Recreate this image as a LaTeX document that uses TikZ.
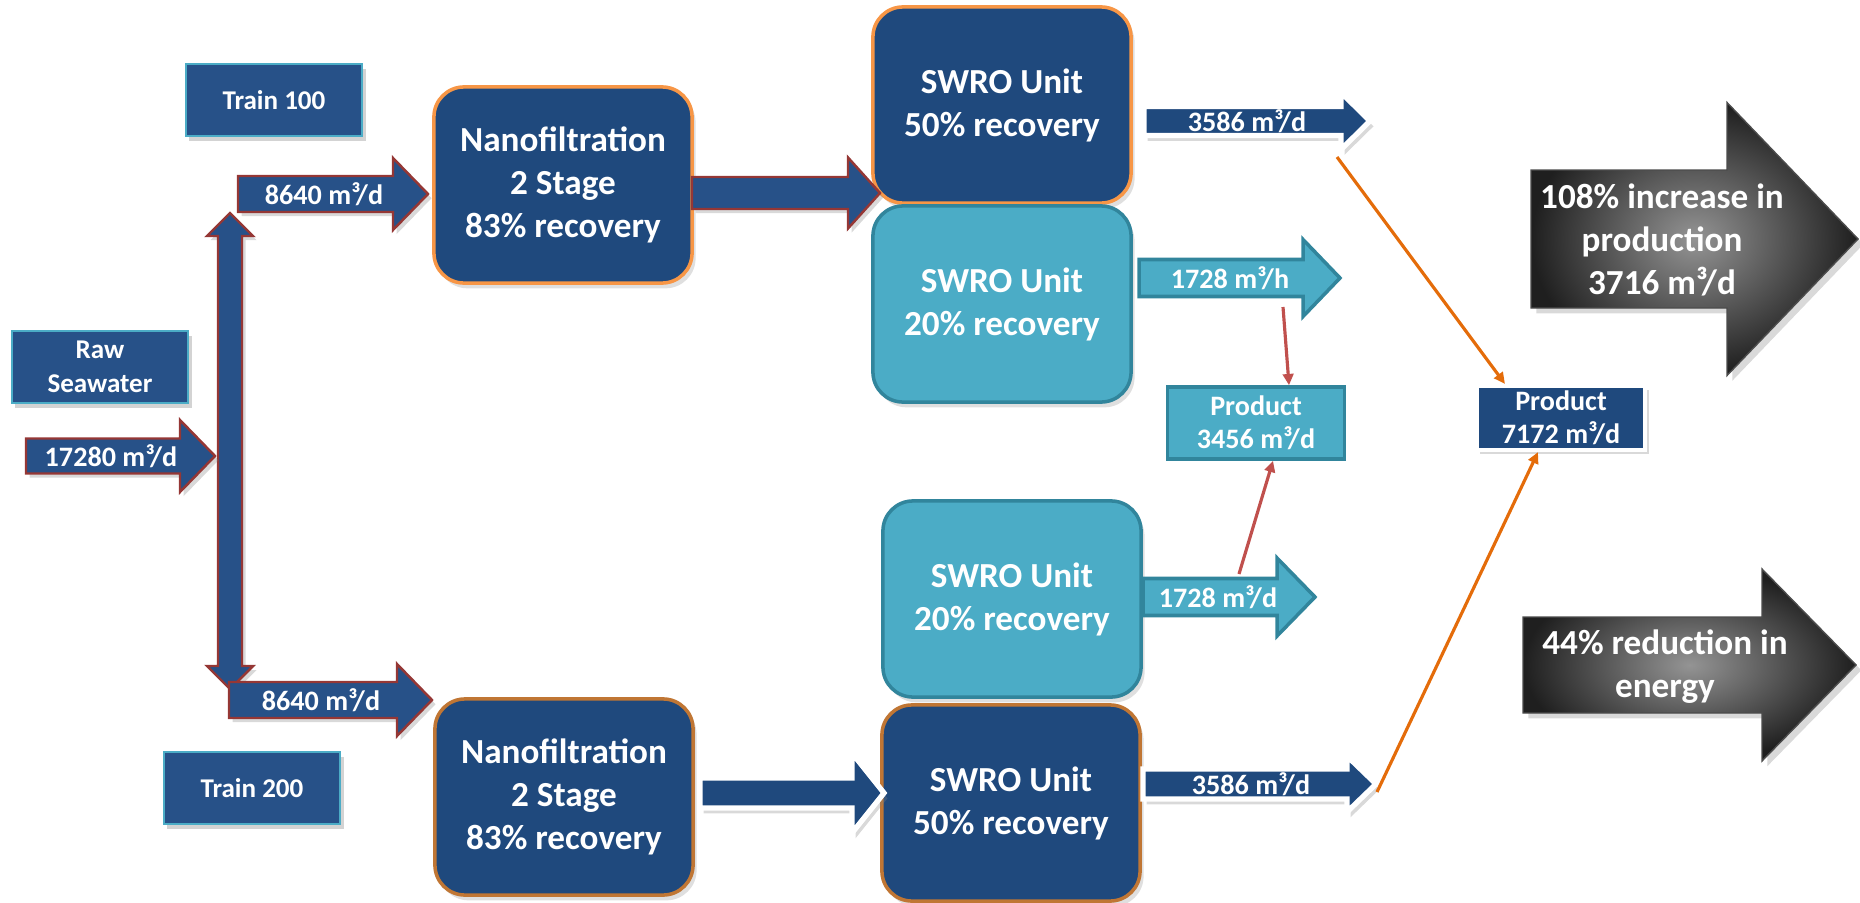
\documentclass[tikz,border=0pt]{standalone}
\usepackage{fontspec}
\setmainfont{Carlito}
\usetikzlibrary{shadows,arrows.meta}
\definecolor{navy}{RGB}{31,73,125}
\definecolor{navylight}{RGB}{39,81,136}
\definecolor{aqua}{RGB}{75,172,198}
\definecolor{aquadark}{RGB}{49,133,156}
\definecolor{unitorange}{RGB}{247,150,70}
\definecolor{unitbrown}{RGB}{192,118,52}
\definecolor{arrowred}{RGB}{149,55,53}
\definecolor{linkred}{RGB}{192,80,77}
\definecolor{linkorange}{RGB}{228,108,10}
\newcommand{\blockarrow}[7]{\path[#1] (#2,#5-#6) -- (#3,#5-#6) -- (#3,#5-#7) -- (#4,#5) -- (#3,#5+#7) -- (#3,#5+#6) -- (#2,#5+#6) -- cycle;}
\begin{document}
\begin{tikzpicture}[x=0.01cm, y=-0.01cm,
every node/.style={text=white, align=center, inner sep=1pt},
unitbox/.style={rounded corners=0.3cm, minimum width=2.58cm, minimum height=1.96cm, line width=1pt, font=\bfseries\fontsize{10}{12.2}\selectfont, drop shadow={opacity=0.25, shadow xshift=1pt, shadow yshift=-1.5pt}},
darkunit/.style={unitbox, fill=navy, draw=unitorange},
lightunit/.style={unitbox, fill=aqua, draw=aquadark},
trainbox/.style={fill=navylight, draw=aqua, line width=0.6pt, minimum width=1.76cm, minimum height=0.72cm, font=\bfseries\fontsize{7.7}{9.5}\selectfont, drop shadow={opacity=0.35, shadow xshift=1pt, shadow yshift=-1.5pt}},
flowtext/.style={font=\bfseries\fontsize{8}{9.5}\selectfont},
gaintext/.style={font=\bfseries\fontsize{10}{12.2}\selectfont},
feedarrow/.style={fill=navylight, draw=arrowred, line width=0.7pt, drop shadow={opacity=0.3, shadow xshift=1pt, shadow yshift=-1.2pt}},
permarrow/.style={fill=navy, draw=white, line width=1.5pt, drop shadow={opacity=0.3, shadow xshift=1pt, shadow yshift=-1.5pt}},
lightarrow/.style={fill=aqua, draw=aquadark, line width=1pt},
gainarrow/.style={inner color=black!42, outer color=black!88, draw=black!70, line width=0.4pt, drop shadow={opacity=0.3, shadow xshift=1.5pt, shadow yshift=-1.5pt}},
productline/.style={line width=0.9pt, -{Triangle[length=3.2pt,width=3pt]}}]
\path[use as bounding box] (0,0) rectangle (1860,903);
\blockarrow{gainarrow}{1531}{1727}{1858}{239}{69}{136.5}
\node[gaintext] (gain1) at (1662,240) {108\% increase in\\production\\3716 m³/d};
\blockarrow{gainarrow}{1523}{1762}{1856}{665}{48}{96}
\node[gaintext] (gain2) at (1665,667) {44\% reduction in\\energy};
\node[trainbox] (train1) at (274,100) {Train 100};
\node[trainbox] (raw) at (100,367) {Raw\\Seawater};
\node[trainbox] (train2) at (252,788) {Train 200};
\path[feedarrow] (230,213) -- (253,236) -- (242,236) -- (242,666) -- (253,666) -- (230,689) -- (207,666) -- (218,666) -- (218,236) -- (207,236) -- cycle;
\blockarrow{feedarrow}{26}{180}{215}{456}{17.5}{36}
\node[flowtext] (q0) at (111,456) {17280 m³/d};
\blockarrow{feedarrow}{238}{393}{428}{194}{18}{36}
\node[flowtext] (q1) at (324,194) {8640 m³/d};
\blockarrow{feedarrow}{229}{397}{432}{700}{18}{36}
\node[flowtext] (q2) at (321,700) {8640 m³/d};
\node[darkunit] (nf1) at (563,185) {Nanofiltration\\2 Stage\\83\% recovery};
\node[darkunit, draw=unitbrown] (nf2) at (564,797) {Nanofiltration\\2 Stage\\83\% recovery};
\node[darkunit] (ro1) at (1002,105) {SWRO Unit\\50\% recovery};
\node[lightunit] (ro2) at (1002,304) {SWRO Unit\\20\% recovery};
\node[lightunit] (ro3) at (1012,599) {SWRO Unit\\20\% recovery};
\node[darkunit, draw=unitbrown] (ro4) at (1011,803) {SWRO Unit\\50\% recovery};
\blockarrow{feedarrow}{692}{848}{880}{193}{16}{35.5}
\blockarrow{permarrow}{700}{852}{884}{793}{15}{40}
\blockarrow{permarrow}{1144}{1341}{1370}{121}{14.5}{28.5}
\node[flowtext] (p1) at (1247,121) {3586 m³/d};
\blockarrow{lightarrow}{1139}{1303}{1340}{278}{18.5}{38.5}
\node[flowtext] (p2) at (1230,278) {1728 m³/h};
\blockarrow{lightarrow}{1143}{1277}{1315}{597}{18.5}{39}
\node[flowtext] (p3) at (1218,597) {1728 m³/d};
\blockarrow{permarrow}{1143}{1347}{1376}{784}{15}{28}
\node[flowtext] (p4) at (1251,784) {3586 m³/d};
\node[flowtext, fill=aqua, draw=aquadark, line width=1pt, minimum width=1.77cm, minimum height=0.72cm] (prod1) at (1256,423) {Product\\3456 m³/d};
\node[flowtext, fill=navy, draw=white, line width=1.2pt, minimum width=1.68cm, minimum height=0.64cm, drop shadow={opacity=0.3, shadow xshift=1pt, shadow yshift=-1.2pt}] (prod2) at (1561,418) {Product\\7172 m³/d};
\coordinate (r1s) at (1283,307);
\coordinate (r2s) at (1239,574);
\coordinate (o1s) at (1337,157);
\coordinate (o2s) at (1377,792);
\draw[productline, linkred] (r1s) -- ([xshift=0.33cm]prod1.north);
\draw[productline, linkred] (r2s) -- ([xshift=0.17cm]prod1.south);
\draw[productline, linkorange] (o1s) -- ([xshift=-0.56cm]prod2.north);
\draw[productline, linkorange] (o2s) -- ([xshift=-0.23cm]prod2.south);
\end{tikzpicture}
\end{document}
